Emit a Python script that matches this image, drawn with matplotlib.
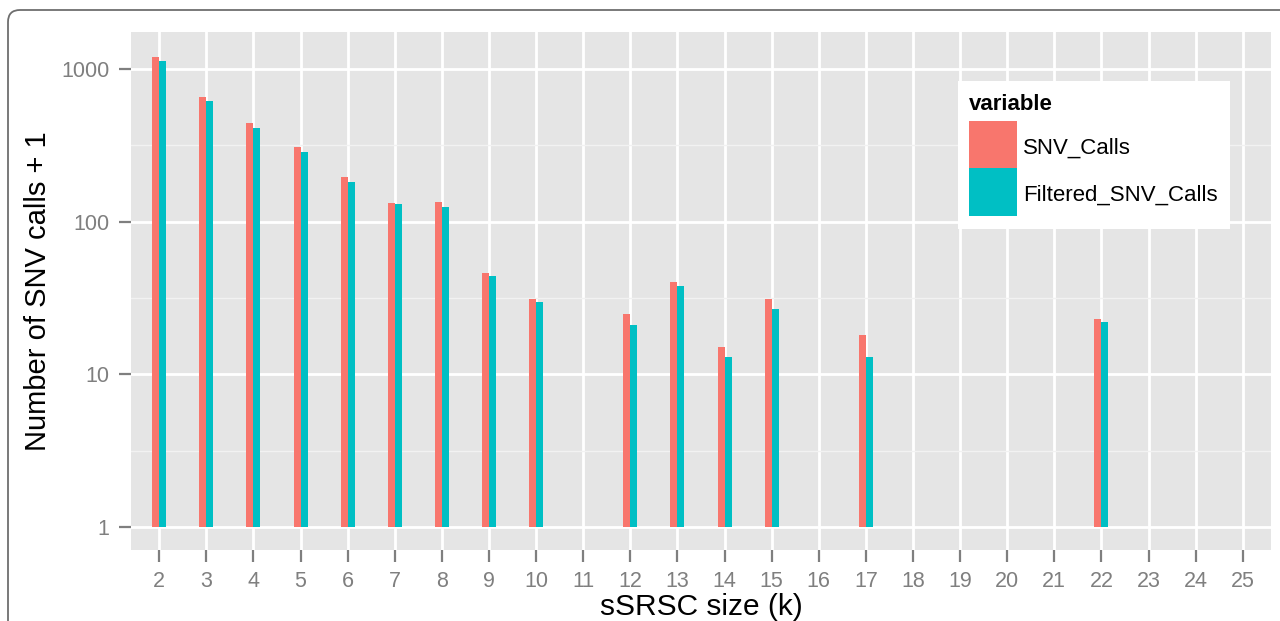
import numpy as np
import matplotlib
matplotlib.use("Agg")
import matplotlib.pyplot as plt
from matplotlib.patches import Rectangle, FancyBboxPatch

plt.rcParams['font.family'] = ['Liberation Sans', 'DejaVu Sans']

# sSRSC size k (factor levels, empty ones have count+1 = 1)
k_sizes = [2, 3, 4, 5, 6, 7, 8, 9, 10, 11, 12, 13, 14, 15, 16, 17, 18, 19, 20, 21, 22, 23, 24, 25]
snv_calls = [1203, 653, 442, 306, 197, 133, 135, 46, 31, 1, 25, 40, 15, 31, 1, 18, 1, 1, 1, 1, 23, 1, 1, 1]
filtered_snv_calls = [1123, 618, 411, 286, 182, 130, 124, 44, 30, 1, 21, 38, 13, 27, 1, 13, 1, 1, 1, 1, 22, 1, 1, 1]
series_names = ["SNV_Calls", "Filtered_SNV_Calls"]
colors = ["#F8766D", "#00BFC4"]

W, H = 1280, 621
fig = plt.figure(figsize=(W / 100, H / 100), dpi=100)


def fx(px):
    return px / W


def fy(py):
    # pixel row measured from the top -> figure fraction
    return 1 - py / H


# rounded outer frame, cut off at right and bottom like the reference
frame = FancyBboxPatch((0.08, -1.0), 20, 7.11,
                       boxstyle="round,pad=0,rounding_size=0.12",
                       transform=fig.dpi_scale_trans, fill=False,
                       edgecolor="#6e6e6e", linewidth=1.3, clip_on=False)
fig.patches.append(frame)

ax = fig.add_axes([fx(131), fy(550), fx(1271 - 131), (550 - 32) / H])
ax.set_facecolor("#E5E5E5")
for s in ax.spines.values():
    s.set_visible(False)

x = np.array(k_sizes, dtype=float)
w = 0.149
snv = np.array(snv_calls, dtype=float)
filt = np.array(filtered_snv_calls, dtype=float)
ax.bar(x - w / 2, snv - 1, bottom=1, width=w, color=colors[0], linewidth=0, zorder=3)
ax.bar(x + w / 2, filt - 1, bottom=1, width=w, color=colors[1], linewidth=0, zorder=3)

ax.set_yscale("log")
ax.set_ylim(10 ** -0.150, 10 ** 3.242)
ax.set_xlim(1.4, 25.6)

ax.set_yticks([1, 10, 100, 1000])
ax.set_yticklabels(["1", "10", "100", "1000"])
ax.set_yticks([10 ** 0.5, 10 ** 1.5, 10 ** 2.5], minor=True)
ax.yaxis.set_minor_formatter(matplotlib.ticker.NullFormatter())
ax.set_xticks(k_sizes)
ax.set_xticklabels([str(k) for k in k_sizes])

ax.grid(True, which="major", color="white", linewidth=2.0, zorder=1)
ax.grid(True, which="minor", axis="y", color="#F2F2F2", linewidth=1.0, zorder=1)
ax.set_axisbelow(True)

ax.tick_params(axis="both", which="major", length=8.5, width=1.6, color="#7F7F7F",
               labelcolor="#7F7F7F", labelsize=15.5)
ax.tick_params(axis="y", which="major", pad=7)
ax.tick_params(axis="x", which="major", pad=6.5)
ax.tick_params(axis="y", which="minor", length=0)

ax.set_ylabel("Number of SNV calls + 1", fontsize=21, color="black")
ax.yaxis.set_label_coords(-0.069, 0.5)
ax.set_xlabel("sSRSC size (k)", fontsize=21.5, color="black", va="top")
ax.xaxis.set_label_coords(0.5, -0.083)

# legend drawn like ggplot's guide box
fig.patches.append(Rectangle((fx(958), fy(229)), fx(1230 - 958), (229 - 81) / H,
                             transform=fig.transFigure, facecolor="white",
                             edgecolor="none", zorder=5))
fig.text(fx(969), fy(110), "variable", fontsize=16, fontweight="bold",
         ha="left", va="baseline", zorder=6)
key_tops = [121, 168]
key_h = 48
for top, c, name in zip(key_tops, colors, series_names):
    fig.patches.append(Rectangle((fx(969), fy(top + key_h)), fx(48), key_h / H,
                                 transform=fig.transFigure, facecolor=c,
                                 edgecolor="none", zorder=6))
    fig.text(fx(1023), fy(top + 33), name, fontsize=16, ha="left",
             va="baseline", zorder=6)

fig.savefig("out.png", dpi=100)
